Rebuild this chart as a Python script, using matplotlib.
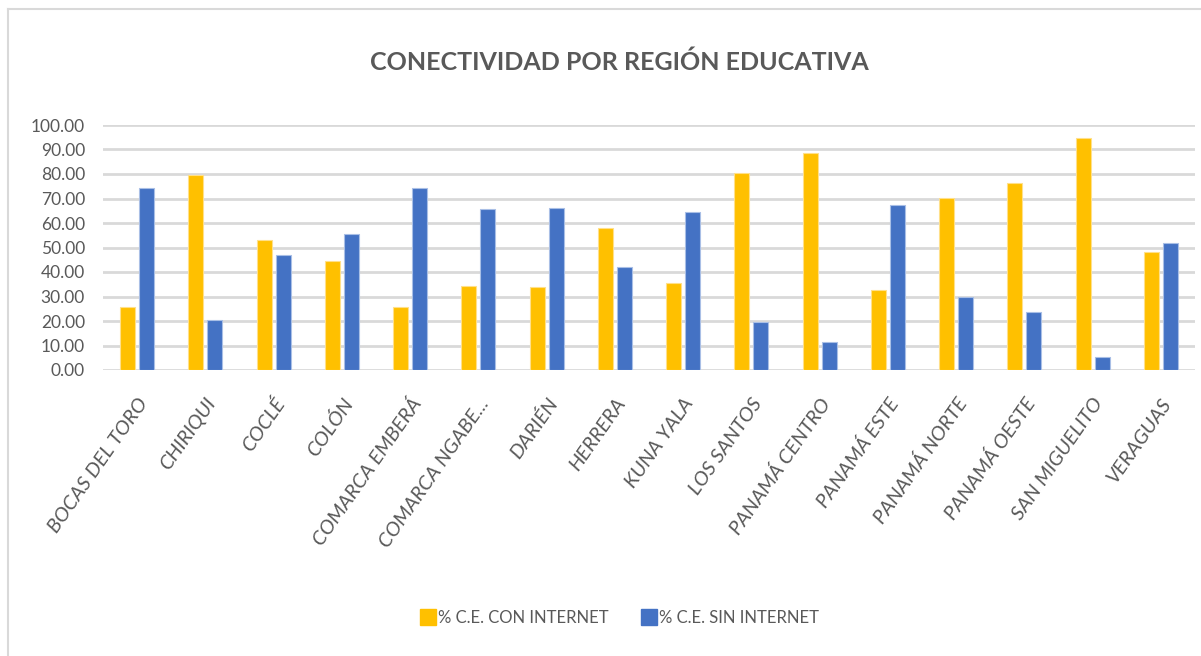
import matplotlib
matplotlib.use("Agg")
import matplotlib.pyplot as plt
from matplotlib.lines import Line2D
import numpy as np

regiones = ["BOCAS DEL TORO", "CHIRIQUI", "COCLÉ", "COLÓN", "COMARCA EMBERÁ",
            "COMARCA NGABE...", "DARIÉN", "HERRERA", "KUNA YALA", "LOS SANTOS",
            "PANAMÁ CENTRO", "PANAMÁ ESTE", "PANAMÁ NORTE", "PANAMÁ OESTE",
            "SAN MIGUELITO", "VERAGUAS"]
con_internet = [25.8, 79.6, 53.0, 44.3, 25.8, 34.4, 33.9, 58.0, 35.5, 80.6,
                88.6, 32.7, 70.3, 76.2, 94.5, 48.2]
sin_internet = [74.2, 20.4, 47.0, 55.7, 74.2, 65.6, 66.1, 42.0, 64.5, 19.4,
                11.4, 67.3, 29.7, 23.8, 5.5, 51.8]
yticks = [0, 10, 20, 30, 40, 50, 60, 70, 80, 90, 100]

amarillo = "#FFC000"
azul = "#4472C4"
gris = "#595959"
fuente = ["Lato", "DejaVu Sans"]

fig = plt.figure(figsize=(12.01, 6.56), dpi=100)
ax = fig.add_axes([103 / 1201, 286 / 656, 1092 / 1201, 245 / 656])

x = np.arange(len(regiones))
w = 0.22
off = 0.139
ax.bar(x - off, con_internet, w, color=amarillo, edgecolor="#FFE08A", linewidth=0.8,
       label="% C.E. CON INTERNET", zorder=3)
ax.bar(x + off, sin_internet, w, color=azul, edgecolor="#A9BFE6", linewidth=0.8,
       label="% C.E. SIN INTERNET", zorder=3)

ax.set_xlim(-0.5, len(regiones) - 0.5)
ax.set_ylim(0, 100)
ax.set_yticks(yticks)
ax.set_yticklabels([f"{v:.2f}" for v in yticks], family=fuente, fontsize=12.5, color=gris)
ax.set_xticks(x)
ax.set_xticklabels(regiones, family=fuente, fontsize=14.5, color=gris, style="italic",
                   rotation=55, ha="right", va="top", rotation_mode="anchor")
ax.tick_params(axis="both", length=0)
ax.tick_params(axis="y", pad=13)
ax.tick_params(axis="x", pad=18)
for s in ax.spines.values():
    s.set_visible(False)
ax.yaxis.grid(True, color="#D9D9D9", linewidth=2, zorder=0)
ax.set_axisbelow(True)

fig.text(619 / 1201, 1 - 62 / 656, "CONECTIVIDAD POR REGIÓN EDUCATIVA", family=fuente,
         fontsize=18, fontweight="bold", color=gris, ha="center", va="center")

handles = [Line2D([], [], marker="s", linestyle="none", markersize=11, color=amarillo),
           Line2D([], [], marker="s", linestyle="none", markersize=11, color=azul)]
fig.legend(handles, ["% C.E. CON INTERNET", "% C.E. SIN INTERNET"],
           loc="center", bbox_to_anchor=(620 / 1201, 1 - 618 / 656), ncol=2,
           frameon=False, prop={"family": fuente, "size": 12}, labelcolor=gris,
           handletextpad=0.2, columnspacing=2.0, handlelength=0.8)

# borde del grafico
fig.add_artist(Line2D([8 / 1201, 1], [1 - 9 / 656, 1 - 9 / 656], color="#D9D9D9", linewidth=1.5))
fig.add_artist(Line2D([8 / 1201, 8 / 1201], [0, 1 - 9 / 656], color="#D9D9D9", linewidth=1.5))

fig.savefig("out.png", dpi=100)
